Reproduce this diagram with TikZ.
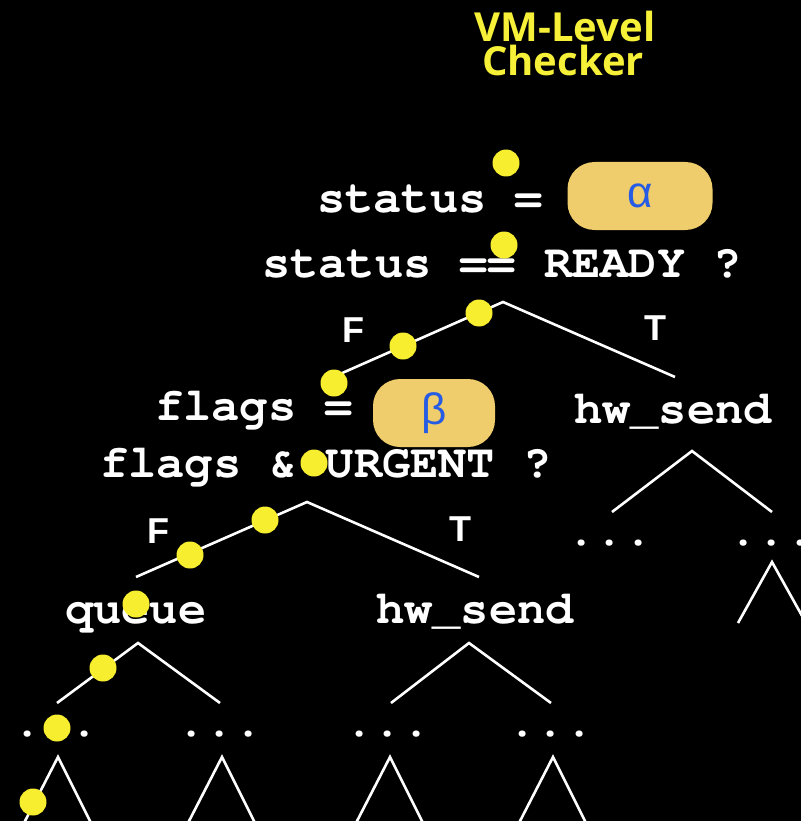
\documentclass[tikz,border=0pt]{standalone}
\usepackage{fontspec}
\setmainfont{Liberation Sans}
\setsansfont{Liberation Sans}
\setmonofont{texgyrecursor}[Extension=.otf, UprightFont=*-regular,
	BoldFont=*-bold, Ligatures=NoCommon]
\newfontfamily\titlefont{Open Sans}
\usetikzlibrary{positioning}

\definecolor{titleyellow}{RGB}{246,240,56}
\definecolor{dotyellow}{RGB}{247,238,48}
\definecolor{boxgold}{RGB}{239,204,108}
\definecolor{greekblue}{RGB}{38,92,228}

\tikzset{
	code/.style={text=white, inner sep=0pt, anchor=base west,
		font=\ttfamily\bfseries\fontsize{47}{50}\selectfont},
	ellip/.style={text=white, inner sep=0pt, anchor=base,
		font=\ttfamily\bfseries\fontsize{47}{50}\selectfont},
	headline/.style={text=titleyellow, inner sep=0pt, anchor=base,
		font=\titlefont\bfseries\fontsize{40}{40}\selectfont},
	branchlbl/.style={text=white, inner sep=0pt,
		font=\sffamily\bfseries\fontsize{36}{36}\selectfont},
	valbox/.style={fill=boxgold, rounded corners=27pt, minimum height=68pt,
		inner sep=0pt, text=greekblue, font=\sffamily\fontsize{44}{44}\selectfont},
	tracedot/.style={circle, fill=dotyellow, minimum size=27pt, inner sep=0pt},
	branch/.style={draw=white, line width=2.6pt}
}

\begin{document}
\begin{tikzpicture}[x=1pt, y=-1pt]
	% Background and frame
	\fill[black] (0,0) rectangle (801,821);
	\useasboundingbox (0,0) rectangle (801,821);
	\clip (0,0) rectangle (801,821);
	
	% Title
	\node[headline] (titleA) at (565,42) {VM-Level};
	\node[headline] (titleB) at (563,76) {Checker};
	
	% Code lines
	\node[code] (asgA) at (317,212) {status =};
	\node[code] (testA) at (262,277) {status == READY ?};
	\node[code] (asgB) at (155,420) {flags =};
	\node[code] (testB) at (100,477) {flags \& URGENT ?};
	\node[code] (sendA) at (574,423) {hw\_send};
	\node[code] (queue) at (65,623) {queue};
	\node[code] (sendB) at (376,623) {hw\_send};
	
	% Symbolic values
	\node[valbox, minimum width=145pt] (alpha) at (640,196) {α};
	\node[valbox, minimum width=122pt] (beta) at (434,413) {β};
	
	% First branch
	\coordinate (brA) at (503,302);
	\coordinate (brAf) at (340,374);
	\coordinate (brAt) at (675,377);
	\draw[branch] (brAf) -- (brA) -- (brAt);
	\node[branchlbl] (fA) at (353,330) {F};
	\node[branchlbl] (tA) at (655,328) {T};
	
	% Second branch
	\coordinate (brB) at (307,502);
	\coordinate (brBf) at (136,577);
	\coordinate (brBt) at (479,577);
	\draw[branch] (brBf) -- (brB) -- (brBt);
	\node[branchlbl] (fB) at (158,531) {F};
	\node[branchlbl] (tB) at (460,529) {T};
	
	% Subtrees
	\coordinate (subQ) at (138,643);
	\draw[branch] (57,703) -- (subQ) -- (220,703);
	\coordinate (subSB) at (469,643);
	\draw[branch] (391,703) -- (subSB) -- (551,703);
	\coordinate (subSA) at (692,451);
	\draw[branch] (612,512) -- (subSA) -- (772,512);
	
	% Elided paths
	\foreach \x [count=\i] in {56,220,388,551} {
		\node[ellip] (more\i) at (\x,736) {...};
		\coordinate (tip\i) at (\x+2,757);
		\draw[branch] (\x-32,823) -- (tip\i) -- (\x+35,823);
	}
	\foreach \x [count=\i] in {610,772} {
		\node[ellip] (moreR\i) at (\x,545) {...};
	}
	\coordinate (tipR) at (772,562);
	\draw[branch] (738,623) -- (tipR) -- (806,623);
	
	% Execution trace
	\foreach \px/\py [count=\i] in {506/163, 504/245, 479/313, 403/346,
		334/383, 314/463, 265/520, 190/555, 136/604, 103/668, 57/728, 33/802} {
		\node[tracedot] (trace\i) at (\px,\py) {};
	}
\end{tikzpicture}
\end{document}
